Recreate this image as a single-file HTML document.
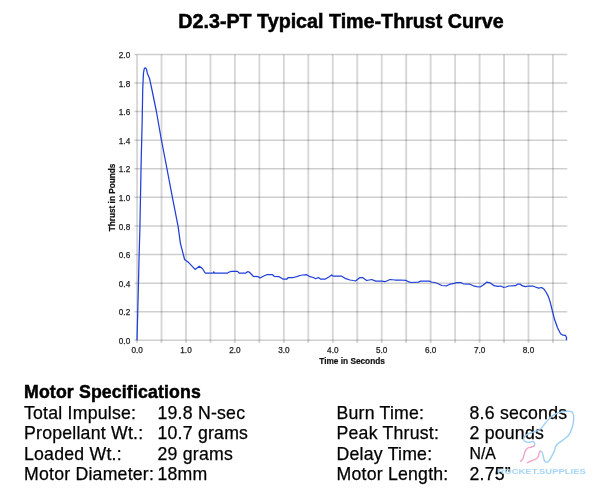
<!DOCTYPE html>
<html><head><meta charset="utf-8">
<style>
html,body{margin:0;padding:0;background:#fff;}
body{width:600px;height:490px;position:relative;overflow:hidden;will-change:transform;font-family:"Liberation Sans",sans-serif;color:#000;}
svg{position:absolute;left:0;top:0;}
.h{stroke:#000;stroke-opacity:0.19;stroke-width:1.5;}
.v{stroke:#000;stroke-opacity:0.155;stroke-width:1.9;}
.tl{font-family:"Liberation Sans",sans-serif;font-size:8.2px;fill:#222;stroke:#222;stroke-width:0.25px;}
.at{font-family:"Liberation Sans",sans-serif;font-size:8.25px;font-weight:bold;fill:#111;stroke:#111;stroke-width:0.2px;}
.t{position:absolute;white-space:nowrap;font-size:17.7px;line-height:20px;letter-spacing:0.22px;-webkit-text-stroke:0.25px #000;}
.b{font-weight:bold;-webkit-text-stroke:0.5px #000;letter-spacing:0.15px;}
</style></head><body>
<svg width="600" height="490" viewBox="0 0 600 490">
<g><line x1="134.3" y1="340.33" x2="567.3" y2="340.33" class="h"/><line x1="134.3" y1="311.74" x2="567.3" y2="311.74" class="h"/><line x1="134.3" y1="283.14" x2="567.3" y2="283.14" class="h"/><line x1="134.3" y1="254.55" x2="567.3" y2="254.55" class="h"/><line x1="134.3" y1="225.95" x2="567.3" y2="225.95" class="h"/><line x1="134.3" y1="197.36" x2="567.3" y2="197.36" class="h"/><line x1="134.3" y1="168.77" x2="567.3" y2="168.77" class="h"/><line x1="134.3" y1="140.17" x2="567.3" y2="140.17" class="h"/><line x1="134.3" y1="111.58" x2="567.3" y2="111.58" class="h"/><line x1="134.3" y1="82.98" x2="567.3" y2="82.98" class="h"/><line x1="134.3" y1="54.39" x2="567.3" y2="54.39" class="h"/><line x1="137.07" y1="54.39" x2="137.07" y2="343" class="v"/><line x1="161.53" y1="54.39" x2="161.53" y2="343" class="v"/><line x1="186.00" y1="54.39" x2="186.00" y2="343" class="v"/><line x1="210.46" y1="54.39" x2="210.46" y2="343" class="v"/><line x1="234.93" y1="54.39" x2="234.93" y2="343" class="v"/><line x1="259.39" y1="54.39" x2="259.39" y2="343" class="v"/><line x1="283.86" y1="54.39" x2="283.86" y2="343" class="v"/><line x1="308.32" y1="54.39" x2="308.32" y2="343" class="v"/><line x1="332.79" y1="54.39" x2="332.79" y2="343" class="v"/><line x1="357.25" y1="54.39" x2="357.25" y2="343" class="v"/><line x1="381.72" y1="54.39" x2="381.72" y2="343" class="v"/><line x1="406.19" y1="54.39" x2="406.19" y2="343" class="v"/><line x1="430.65" y1="54.39" x2="430.65" y2="343" class="v"/><line x1="455.12" y1="54.39" x2="455.12" y2="343" class="v"/><line x1="479.58" y1="54.39" x2="479.58" y2="343" class="v"/><line x1="504.05" y1="54.39" x2="504.05" y2="343" class="v"/><line x1="528.51" y1="54.39" x2="528.51" y2="343" class="v"/><line x1="552.97" y1="54.39" x2="552.97" y2="343" class="v"/></g>
<g class="tl"><text x="130.2" y="343.9" text-anchor="end">0.0</text><text x="130.2" y="315.3" text-anchor="end">0.2</text><text x="130.2" y="286.7" text-anchor="end">0.4</text><text x="130.2" y="258.1" text-anchor="end">0.6</text><text x="130.2" y="229.6" text-anchor="end">0.8</text><text x="130.2" y="201.0" text-anchor="end">1.0</text><text x="130.2" y="172.4" text-anchor="end">1.2</text><text x="130.2" y="143.8" text-anchor="end">1.4</text><text x="130.2" y="115.2" text-anchor="end">1.6</text><text x="130.2" y="86.6" text-anchor="end">1.8</text><text x="130.2" y="58.0" text-anchor="end">2.0</text><text x="137.1" y="352.8" text-anchor="middle">0.0</text><text x="186.0" y="352.8" text-anchor="middle">1.0</text><text x="234.9" y="352.8" text-anchor="middle">2.0</text><text x="283.9" y="352.8" text-anchor="middle">3.0</text><text x="332.8" y="352.8" text-anchor="middle">4.0</text><text x="381.7" y="352.8" text-anchor="middle">5.0</text><text x="430.6" y="352.8" text-anchor="middle">6.0</text><text x="479.6" y="352.8" text-anchor="middle">7.0</text><text x="528.5" y="352.8" text-anchor="middle">8.0</text></g>
<text class="at" x="352.1" y="364.2" text-anchor="middle" textLength="65.6" lengthAdjust="spacingAndGlyphs">Time in Seconds</text>
<text class="at" transform="translate(115.3,197.45) rotate(-90)" text-anchor="middle">Thrust in Pounds</text>
<path d="M137,340.3 L138.3,290 L139.0,260 L139.9,228 L141.2,160 L142.2,120 L142.7,90 L143.2,78.4 L143.5,72.9 L144.3,68.6 L145.2,67.8 L146.4,68.9 L147.3,73.2 L148.6,76.2 L149.5,78.4 L150.7,83.9 L152,90 L156.4,111.5 L161.4,140 L165.3,160 L172.4,197.4 L178.1,226.4 L180.4,243.3 L184.6,259.5 L188.7,262.6 L195.1,269.4 L199.3,266.3 L202.4,268.5 L205.2,273 L213.3,273 L213.8,271.8 L214.3,273 L227.5,273 L229.2,272 L231.7,271.3 L237.5,271.4 L239.2,273 L245.8,273 L247.5,271.7 L249.2,272 L253.3,276.3 L258.3,276.7 L260,278 L263.3,276.3 L266.7,274.7 L272.5,274.7 L274.2,276.3 L279.2,276.7 L283.3,279.2 L286.7,279.2 L288.3,277.5 L293.3,277.5 L296.7,276.7 L300,275.5 L302.5,275 L306.7,274.7 L310,276.7 L313.3,277.5 L315.8,278.7 L318.3,277.5 L320.8,279.2 L325,279.2 L329.2,276.7 L331.7,275 L333.3,276.2 L341.7,276.2 L345,278.3 L350,280 L353.3,280.5 L355.8,280.8 L360,277.5 L362.5,277.5 L366.7,280.5 L371.7,279.5 L375.8,281.2 L381.7,281.2 L385,281.7 L390,279.5 L395,280 L400,280 L405.8,280.3 L408.3,281.7 L410.8,282.5 L418.3,282.2 L420.8,281.2 L429.2,281.2 L431.7,282 L436.7,283 L441.7,285.5 L446.7,285.8 L450,284.2 L454.2,283.3 L456.7,282.5 L460.8,282.5 L463.3,283.8 L470,284.2 L473.3,285.8 L476.7,286.7 L480,287 L483.3,285 L486.7,282.2 L490,282.8 L494,285.7 L498,286.3 L500.7,286 L503.3,287.3 L506,287 L508.7,286 L515.3,285.7 L518,284 L520,284 L522,285.7 L525.3,286.7 L528.7,286 L532.7,286 L535.3,287 L538.6,288.2 L541.6,287.5 L544.1,289.3 L546,292 L548.4,296.6 L550.2,302.1 L552.6,311.9 L554.5,319.3 L557.5,327.8 L560.6,333.7 L563,335.2 L565.5,335.4 L566.5,337.6 L566.5,340.3" fill="none" stroke="#1f3fd8" stroke-width="1.25" stroke-linejoin="round"/>
<text x="341" y="28.1" text-anchor="middle" style="font-family:'Liberation Sans',sans-serif;font-weight:bold;font-size:19.7px;stroke:#000;stroke-width:0.5px;">D2.3-PT Typical Time-Thrust Curve</text>
</svg>
<div class="t b" style="left:24px;top:382px;">Motor Specifications</div>
<div class="t" style="left:24px;top:402.5px;">Total Impulse:</div>
<div class="t" style="left:24px;top:423px;">Propellant Wt.:</div>
<div class="t" style="left:24px;top:443.5px;">Loaded Wt.:</div>
<div class="t" style="left:24px;top:464px;">Motor Diameter:</div>
<div class="t" style="left:157.5px;top:402.5px;">19.8 N-sec</div>
<div class="t" style="left:157.5px;top:423px;">10.7 grams</div>
<div class="t" style="left:157.5px;top:443.5px;">29 grams</div>
<div class="t" style="left:157.5px;top:464px;">18mm</div>
<div class="t" style="left:336.5px;top:402.5px;">Burn Time:</div>
<div class="t" style="left:336.5px;top:423px;">Peak Thrust:</div>
<div class="t" style="left:336.5px;top:443.5px;">Delay Time:</div>
<div class="t" style="left:336.5px;top:464px;">Motor Length:</div>
<div class="t" style="left:469.5px;top:402.5px;">8.6 seconds</div>
<div class="t" style="left:469.5px;top:423px;">2 pounds</div>
<div class="t" style="left:469.5px;top:444px;font-size:15.8px;letter-spacing:0;">N/A</div>
<div class="t" style="left:469.5px;top:464px;">2.75&#8221;</div>
<svg width="600" height="490" viewBox="0 0 600 490">
<path d="M534.3,445.7 C534.4,445.3 534.9,444.1 534.7,443.4 C534.5,442.7 533.9,441.7 532.9,441.5 C531.9,441.3 530.1,442.4 528.8,442.4 C527.5,442.4 526.0,442.1 525.1,441.5 C524.2,440.9 523.6,439.9 523.7,438.8 C523.9,437.7 524.5,436.2 526.0,435.1 C527.5,434.0 530.1,433.2 532.4,432.3 C534.7,431.4 537.8,430.9 539.8,429.5 C541.8,428.1 542.8,426.1 544.6,424.0 C546.4,421.9 548.7,418.9 550.6,417.2 C552.5,415.5 554.4,414.5 556.3,413.6 C558.2,412.7 560.1,412.3 562.0,411.9 C563.9,411.5 566.2,411.1 567.8,411.1 C569.4,411.1 570.8,411.3 571.8,411.9 C572.8,412.5 573.2,413.2 573.5,414.8 C573.8,416.4 573.8,419.0 573.5,421.3 C573.2,423.6 572.6,426.4 571.8,428.7 C571.0,431.0 570.1,433.3 568.6,435.2 C567.1,437.1 564.7,438.7 562.9,440.1 C561.1,441.5 559.2,442.4 558.0,443.5 C556.8,444.6 556.1,445.8 555.5,447.0 C554.9,448.2 555.1,449.2 554.5,450.7 C553.9,452.2 552.6,454.5 551.7,456.2 C550.8,457.9 549.9,459.8 549.0,460.8 C548.1,461.8 547.0,462.2 546.2,462.2 C545.4,462.2 544.9,461.9 544.4,460.8 C543.9,459.7 543.4,456.8 543.0,455.3 C542.6,453.9 542.6,452.8 542.1,452.1 C541.6,451.4 540.6,451.4 540.3,451.2" fill="none" stroke="#9fd0f5" stroke-width="1.4" stroke-linecap="round"/>
<path d="M534.3,445.7 C533.8,445.9 532.6,446.6 531.5,447.0 C530.4,447.4 528.9,447.4 527.9,448.0 C526.9,448.6 526.2,449.2 525.6,450.3 C525.0,451.4 524.7,452.9 524.2,454.4 C523.7,455.8 523.4,457.9 522.8,459.0 C522.2,460.1 520.9,460.9 520.5,461.3" fill="none" stroke="#f2a2c8" stroke-width="1.4" stroke-linecap="round"/>
<path d="M540.3,451.2 C540.1,451.4 539.6,451.7 539.3,452.5 C539.0,453.3 538.9,455.1 538.4,456.2 C537.9,457.3 537.1,458.3 536.1,459.0 C535.1,459.7 533.9,459.8 532.4,460.4 C530.9,461.0 528.2,462.2 527.4,462.6" fill="none" stroke="#f2a2c8" stroke-width="1.4" stroke-linecap="round"/>
<text x="497.5" y="473.8" style="font-family:'Liberation Sans',sans-serif;font-size:7px;font-weight:bold;" fill="#a6d5f7" textLength="88.3" lengthAdjust="spacingAndGlyphs" transform="translate(497.5,473.8) scale(1,0.95) translate(-497.5,-473.8)">ROCKET.SUPPLIES</text>
</svg>
</body></html>
